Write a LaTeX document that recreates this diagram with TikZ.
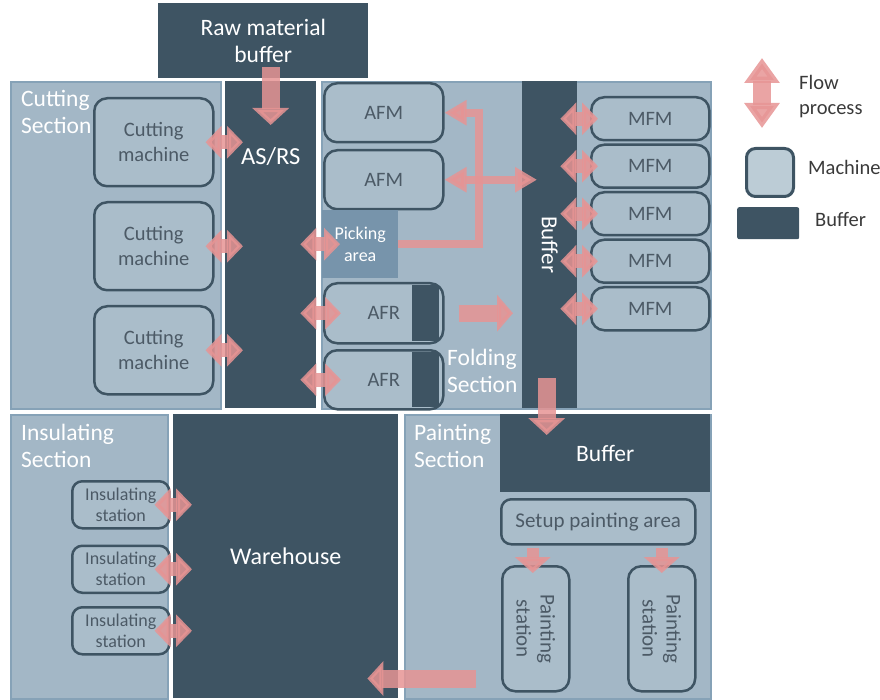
\documentclass[tikz,border=0pt]{standalone}
\usepackage{fontspec}
\setmainfont{Carlito}
\usetikzlibrary{arrows.meta,positioning,calc}
\definecolor{bufdark}{HTML}{3E5463}
\definecolor{panelfill}{HTML}{A3B7C6}
\definecolor{panelline}{HTML}{86A2B7}
\definecolor{machfill}{HTML}{AABDCA}
\definecolor{machtext}{HTML}{4C5A66}
\definecolor{pickfill}{HTML}{7794AB}
\definecolor{legfill}{HTML}{BCCCD6}
\definecolor{flowpink}{HTML}{E69494}
\definecolor{legtext}{HTML}{3A3A3A}

\begin{document}
\begin{tikzpicture}[x=1pt, y=-1pt,
    panel/.style={draw=panelline,fill=panelfill,line width=2pt,anchor=north west,inner sep=0pt},
    buf/.style={fill=bufdark,text=white,anchor=north west,inner sep=0pt,align=center,font=\fontsize{23.5}{27}\selectfont},
    mach/.style={draw=bufdark,fill=machfill,line width=2.5pt,rounded corners=13pt,text=machtext,align=center,anchor=north west,inner sep=0pt,font=\fontsize{20.5}{25}\selectfont},
    small/.style={font=\fontsize{18}{21}\selectfont},
    sect/.style={text=white,align=left,anchor=north west,inner sep=0pt,font=\fontsize{23.5}{27}\selectfont},
    legend/.style={text=legtext,align=left,anchor=west,inner sep=0pt,font=\fontsize{20.5}{25}\selectfont},
    flow/.style={draw=flowpink,opacity=.85,line width=18pt,-{Triangle[length=17pt,width=36pt]}},
    flowtwo/.style={draw=flowpink,opacity=.85,line width=14pt,{Triangle[length=16pt,width=32pt]}-{Triangle[length=16pt,width=32pt]}},
    flowthin/.style={draw=flowpink,opacity=.85,line width=8pt,-{Triangle[length=22pt,width=24pt]}}]
  \useasboundingbox (0,0) rectangle (880,700);

  \node[buf,minimum width=210pt,minimum height=75pt] (raw) at (158,3) {Raw material\\buffer};

  % cutting
  \node[panel,minimum width=210pt,minimum height=327pt] (cut) at (10,81) {};
  \node[sect] (cutlbl) at (21,90) {Cutting\\Section};
  \node[mach,minimum width=119pt,minimum height=88pt] (cm1) at (93,97) {Cutting\\machine};
  \node[mach,minimum width=119pt,minimum height=88pt] (cm2) at (93,201) {Cutting\\machine};
  \node[mach,minimum width=119pt,minimum height=88pt] (cm3) at (93,305) {Cutting\\machine};
  \node[buf,minimum width=91pt,minimum height=327pt] (asrs) at (225,81) {};
  \node[text=white,font=\fontsize{24.5}{28}\selectfont] (asrslbl) at ($(asrs.north)+(0,76)$) {AS/RS};

  % folding
  \node[panel,minimum width=389pt,minimum height=327pt] (fold) at (321,81) {};
  \node[mach,minimum width=119pt,minimum height=59pt] (afm1) at (323,82) {AFM};
  \node[mach,minimum width=119pt,minimum height=59pt] (afm2) at (323,149) {AFM};
  \node[fill=pickfill,text=white,align=center,anchor=north west,inner sep=0pt,minimum width=76pt,minimum height=68pt,
        font=\fontsize{18}{22}\selectfont] (pick) at (322,210) {Picking\\area};
  \node[mach,minimum width=119pt,minimum height=60pt] (afr1) at (323,282) {AFR};
  \node[fill=bufdark,anchor=east,inner sep=0pt,minimum width=27pt,minimum height=56pt] (afr1s) at ($(afr1.east)+(-5,0)$) {};
  \node[mach,minimum width=119pt,minimum height=59pt] (afr2) at (323,349) {AFR};
  \node[fill=bufdark,anchor=east,inner sep=0pt,minimum width=27pt,minimum height=55pt] (afr2s) at ($(afr2.east)+(-5,0)$) {};
  \node[sect] (foldlbl) at (447,349) {Folding\\Section};
  \node[buf,minimum width=55pt,minimum height=327pt,
        label={[text=white,rotate=-90,font=\fontsize{23}{27}\selectfont]center:Buffer}] (fbuf) at (522,81) {};
  \node[mach,minimum width=118pt,minimum height=43pt] (mfm1) at (590,96) {MFM};
  \node[mach,minimum width=118pt,minimum height=43pt,below=2pt of mfm1] (mfm2) {MFM};
  \node[mach,minimum width=118pt,minimum height=43pt,below=2pt of mfm2] (mfm3) {MFM};
  \node[mach,minimum width=118pt,minimum height=43pt,below=2pt of mfm3] (mfm4) {MFM};
  \node[mach,minimum width=118pt,minimum height=43pt,below=2pt of mfm4] (mfm5) {MFM};

  % insulating
  \node[panel,minimum width=157pt,minimum height=284pt] (ins) at (10,414) {};
  \node[sect] (inslbl) at (21,424) {Insulating\\Section};
  \node[mach,small,rounded corners=10pt,minimum width=97pt,minimum height=47pt] (is1) at (71,480) {Insulating\\station};
  \node[mach,small,rounded corners=10pt,minimum width=97pt,minimum height=47pt,below=15pt of is1] (is2) {Insulating\\station};
  \node[mach,small,rounded corners=10pt,minimum width=97pt,minimum height=47pt,below=12pt of is2] (is3) {Insulating\\station};
  \node[buf,minimum width=225pt,minimum height=284pt,font=\fontsize{24}{28}\selectfont] (wh) at (173,414) {Warehouse};

  % painting
  \node[panel,minimum width=306pt,minimum height=284pt] (paint) at (404,414) {};
  \node[sect] (paintlbl) at (414,424) {Painting\\Section};
  \node[buf,minimum width=210pt,minimum height=78pt] (pbuf) at (500,414) {Buffer};
  \node[mach,rounded corners=10pt,minimum width=194pt,minimum height=45pt,font=\fontsize{21}{25}\selectfont] (setup) at (500,498) {Setup painting area};
  \node[mach,minimum width=67pt,minimum height=125pt,
        label={[text=machtext,rotate=-90,align=center,font=\fontsize{21}{24}\selectfont]center:Painting\\station}] (ps1) at (501,565) {};
  \node[mach,minimum width=67pt,minimum height=125pt,
        label={[text=machtext,rotate=-90,align=center,font=\fontsize{21}{24}\selectfont]center:Painting\\station}] (ps2) at (627,565) {};

  % legend
  \coordinate (flowtop) at (762,58);
  \coordinate (flowbot) at (762,128);
  \node[legend] (flowlbl) at (799,97) {Flow\\process};
  \node[draw=bufdark,fill=legfill,line width=3pt,rounded corners=9pt,anchor=north west,minimum width=47pt,minimum height=48pt] (legmach) at (745,147) {};
  \node[legend] (machlbl) at (808,167) {Machine};
  \node[fill=bufdark,rounded corners=2pt,anchor=north west,minimum width=62pt,minimum height=32pt] (legbuf) at (737,207) {};
  \node[legend] (buflbl) at (815,219) {Buffer};

  % flows
  \draw[flow] ($(raw.south -| asrs.north)+(0,-11)$) -- ($(asrs.north)+(0,44)$);
  \draw[flowtwo] ($(cm1.east)+(-9,0)$) -- ($(cm1.east -| asrs.west)+(18,0)$);
  \draw[flowtwo] ($(cm2.east)+(-9,0)$) -- ($(cm2.east -| asrs.west)+(18,0)$);
  \draw[flowtwo] ($(cm3.east)+(-9,0)$) -- ($(cm3.east -| asrs.west)+(18,0)$);
  \draw[flowtwo] ($(pick.west -| asrs.east)+(-16,0)$) -- ($(pick.west)+(18,0)$);
  \draw[flowtwo] ($(afr1.west -| asrs.east)+(-16,0)$) -- ($(afr1.west)+(18,0)$);
  \draw[flowtwo] ($(afr2.west -| asrs.east)+(-16,0)$) -- ($(afr2.west)+(18,0)$);
  \draw[flowthin] (pick.east) -| ($(afm1.east)+(34,0)$) -- (afm1.east);
  \draw[flowthin,{Triangle[length=22pt,width=24pt]}-{Triangle[length=22pt,width=24pt]}] (afm2.east) -- ($(afm2.east -| fbuf.west)+(15,0)$);
  \draw[flow,line width=17pt,-{Triangle[length=16pt,width=36pt]}] ($(afr1.east)+(14,0)$) -- ($(afr1.east -| fbuf.west)+(-9,0)$);
  \draw[flowtwo] ($(mfm1.west -| fbuf.east)+(-17,0)$) -- ($(mfm1.west)+(8,0)$);
  \draw[flowtwo] ($(mfm2.west -| fbuf.east)+(-17,0)$) -- ($(mfm2.west)+(8,0)$);
  \draw[flowtwo] ($(mfm3.west -| fbuf.east)+(-17,0)$) -- ($(mfm3.west)+(8,0)$);
  \draw[flowtwo] ($(mfm4.west -| fbuf.east)+(-17,0)$) -- ($(mfm4.west)+(8,0)$);
  \draw[flowtwo] ($(mfm5.west -| fbuf.east)+(-17,0)$) -- ($(mfm5.west)+(8,0)$);
  \draw[flow] ($(fbuf.south)+(-3,-30)$) -- ($(fbuf.south |- pbuf.north)+(-3,21)$);
  \draw[flow,line width=12pt,-{Triangle[length=16pt,width=35pt]}] ($(setup.south -| ps1.north)+(-3,2)$) -- ($(ps1.north)+(-3,8)$);
  \draw[flow,line width=12pt,-{Triangle[length=16pt,width=35pt]}] ($(setup.south -| ps2.north)+(0,2)$) -- ($(ps2.north)+(0,8)$);
  \draw[flow,-{Triangle[length=16pt,width=34pt]}] ($(ps1.south west)+(-25,-14)$) -- ($(wh.east |- ps1.south)+(-31,-14)$);
  \draw[flowtwo] ($(is1.east)+(-16,0)$) -- ($(is1.east -| wh.west)+(19,0)$);
  \draw[flowtwo] ($(is2.east)+(-16,0)$) -- ($(is2.east -| wh.west)+(19,0)$);
  \draw[flowtwo] ($(is3.east)+(-16,0)$) -- ($(is3.east -| wh.west)+(19,0)$);
  \draw[flow,{Triangle[length=25pt,width=34pt]}-{Triangle[length=25pt,width=34pt]}] (flowtop) -- (flowbot);
\end{tikzpicture}
\end{document}
